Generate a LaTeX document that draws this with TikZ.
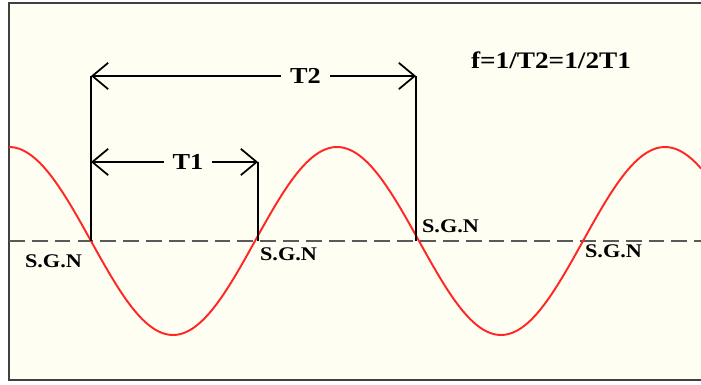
\documentclass[tikz,border=0pt]{standalone}
\usepackage{fontspec}
\setmainfont{Liberation Serif}[FakeStretch=1.15]
\usepackage{tikz}
\usetikzlibrary{arrows.meta, positioning}

\definecolor{paper}{HTML}{FFFEF2}
\definecolor{wavered}{HTML}{FF2626}
\definecolor{axisgray}{HTML}{5A5A5A}

\begin{document}
\begin{tikzpicture}[
        x=0.02cm, y=-0.02cm,
        >={Straight Barb[length=9pt,width=15pt]},
        frame/.style={draw=black!75, line width=1.6pt},
        axisline/.style={draw=axisgray, line width=1pt, dash pattern=on 9pt off 4pt},
        wave/.style={draw=wavered, line width=1.1pt},
        dimline/.style={draw=black, line width=1pt},
        dimarrow/.style={dimline, <->},
        dimlabel/.style={fill=paper, inner xsep=5pt, inner ysep=1pt, font=\bfseries\fontsize{13}{15}\selectfont},
        sgn/.style={inner sep=1pt, font=\bfseries\fontsize{11}{13}\selectfont},
        eqlabel/.style={inner sep=1pt, font=\bfseries\fontsize{13.5}{15}\selectfont}
    ]

    \useasboundingbox (0,0) rectangle (701,385);
    \fill[white] (0,0) rectangle (701,385);
    \fill[paper] (9,3) rectangle (701,380);
    \draw[frame] (701,3) -- (9,3) -- (9,380) -- (701,380);

    % zero line and signal
    \coordinate (axl) at (9,241);
    \coordinate (axr) at (701,241);
    \draw[axisline] (axl) -- (axr);
    \draw[wave] plot[domain=9:701, samples=220, smooth] (\x, {241+94*sin((\x-91)/164*180)});

    % crossing points
    \coordinate (z1) at (91,241);
    \coordinate (z2) at (258,241);
    \coordinate (z3) at (416,241);
    \coordinate (z4) at (583,241);

    % ends of the dimension arrows
    \coordinate (t2l) at (91,76);
    \coordinate (t2r) at (416,76);
    \coordinate (t1l) at (91,162);
    \coordinate (t1r) at (258,162);

    \draw[dimline] (z1) -- (t2l);
    \draw[dimline] (z3) -- (t2r);
    \draw[dimline] (z2) -- (t1r);

    \draw[dimarrow] (t2l) -- node[dimlabel, pos=0.66] (t2lbl) {T2} (t2r);
    \draw[dimarrow] (t1l) -- node[dimlabel, pos=0.58] (t1lbl) {T1} (t1r);

    \node[sgn, below left=0.24cm and 0.14cm of z1] (sgn1) {S.G.N};
    \node[sgn, below right=0.1cm and 0cm of z2] (sgn2) {S.G.N};
    \node[sgn, above right=0.12cm and 0.08cm of z3] (sgn3) {S.G.N};
    \node[sgn, below right=0.04cm and 0cm of z4] (sgn4) {S.G.N};

    \node[eqlabel] (freq) at (551,60) {f=1/T2=1/2T1};

\end{tikzpicture}
\end{document}
